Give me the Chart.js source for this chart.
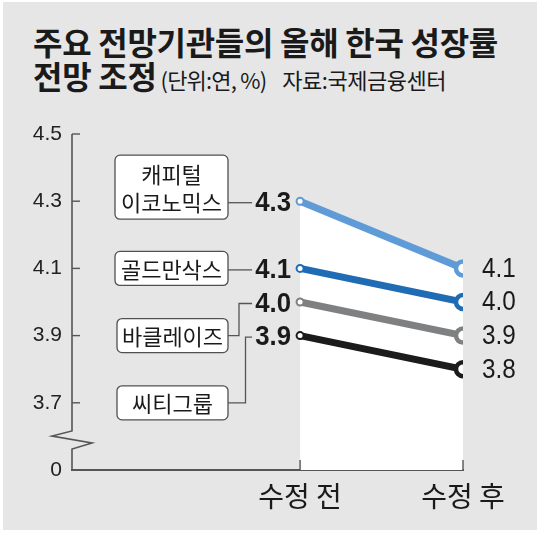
<!DOCTYPE html>
<html>
<head>
<meta charset="utf-8">
<script src="https://cdn.jsdelivr.net/npm/chart.js@4.4.1/dist/chart.umd.min.js"></script>
<style>
  html, body { margin:0; padding:0; background:#ffffff; }
  #wrap { position:relative; width:540px; height:533px; overflow:hidden; }
  #panel { position:absolute; left:3px; top:2px; width:534px; height:528px; background:#e6e6e7; }
  #c { position:absolute; left:0; top:0; }
  .t { position:absolute; font-family:"Noto Sans CJK KR","Noto Sans",sans-serif; color:#1a1a1a; white-space:nowrap; }
  #t1 { left:33px; top:21px; font-size:32px; font-weight:700; letter-spacing:-0.3px; line-height:40px; }
  #t2 { left:33px; top:55px; font-size:32px; font-weight:700; letter-spacing:-0.3px; line-height:40px; }
  #t2 span.u { font-size:22px; font-weight:400; letter-spacing:-0.8px; margin-left:4px; }
  #t2 span.s { font-size:22px; font-weight:400; letter-spacing:-0.5px; margin-left:16px; }
</style>
</head>
<body>
<div id="wrap">
  <div id="panel"></div>
  <div class="t" id="t1">주요 전망기관들의 올해 한국 성장률</div>
  <div class="t" id="t2">전망 조정<span class="u">(단위:연, %)</span><span class="s">자료:국제금융센터</span></div>
  <canvas id="c" width="540" height="533"></canvas>
</div>
<script>
// ---- data ----
const categories = ['수정 전', '수정 후'];
const institutions = [['캐피털', '이코노믹스'], ['골드만삭스'], ['바클레이즈'], ['씨티그룹']];
const beforeValues = [4.3, 4.1, 4.0, 3.9];
const afterValues = [4.1, 4.0, 3.9, 3.8];
const yTickValues = [3.5, 3.7, 3.9, 4.1, 4.3, 4.5];
const yTickLabels = ['0', '3.7', '3.9', '4.1', '4.3', '4.5'];
// y level (on the value axis) where each name box's connector leaves the box
const boxLevels = [4.3, 4.1, 3.9, 3.7];

// ---- styles ----
const colors = ['#5f9bd7', '#1f6bb4', '#7f8082', '#1b1b1b'];
const boxStyle = [
  { x: 115, w: 113, top: -46, h: 64 },
  { x: 115, w: 113, top: -17, h: 34 },
  { x: 117, w: 111, top: -17, h: 34 },
  { x: 117, w: 111, top: -17, h: 34 }
];
const elbowX = [null, null, 239, 245.5];

const datasets = beforeValues.map((v, i) => ({
  label: institutions[i].join(' '),
  data: [{ x: 0, y: beforeValues[i] }, { x: 1, y: afterValues[i] }],
  borderColor: colors[i],
  borderWidth: 7,
  pointBackgroundColor: '#ffffff',
  pointBorderColor: colors[i],
  pointRadius: [3.5, 7],
  pointBorderWidth: [2, 4.5],
  pointHoverRadius: [3.5, 7],
  fill: i === 0 ? 'start' : false,
  backgroundColor: '#ffffff',
  borderCapStyle: 'round'
}));

const decor = {
  id: 'decor',
  afterDraw(chart) {
    const ctx = chart.ctx;
    const xs = chart.scales.x, ys = chart.scales.y;
    const ca = chart.chartArea;
    const axisColor = '#555555';
    ctx.save();
    // broken y axis
    ctx.strokeStyle = axisColor;
    ctx.lineWidth = 1.6;
    ctx.lineJoin = 'miter';
    const ax = ca.left;
    ctx.beginPath();
    ctx.moveTo(ax, ca.top);
    ctx.lineTo(ax, 431);
    ctx.lineTo(ax - 20, 436);
    ctx.lineTo(ax + 20, 443);
    ctx.lineTo(ax, 449);
    ctx.lineTo(ax, ca.bottom + 1);
    ctx.stroke();
    // inward y ticks
    ctx.lineWidth = 1.4;
    yTickValues.forEach((v, k) => {
      if (k === 0) return;
      const y = ys.getPixelForValue(v);
      ctx.beginPath();
      ctx.moveTo(ax, y);
      ctx.lineTo(ax + 8, y);
      ctx.stroke();
    });
    // inward x ticks
    [0, 1].forEach(v => {
      const x = xs.getPixelForValue(v);
      ctx.beginPath();
      ctx.moveTo(x, ca.bottom);
      ctx.lineTo(x, ca.bottom - 10);
      ctx.stroke();
    });

    // name boxes + connectors
    const font = '"Noto Sans CJK KR", sans-serif';
    institutions.forEach((lines, i) => {
      const b = boxStyle[i];
      const by = ys.getPixelForValue(boxLevels[i]);
      const top = by + b.top;
      ctx.fillStyle = '#ffffff';
      ctx.strokeStyle = '#505050';
      ctx.lineWidth = 1.3;
      ctx.beginPath();
      ctx.roundRect(b.x, top, b.w, b.h, 5);
      ctx.fill();
      ctx.stroke();
      ctx.fillStyle = '#1a1a1a';
      ctx.font = '400 22px ' + font;
      ctx.textAlign = 'center';
      ctx.textBaseline = 'middle';
      const cx = b.x + b.w / 2;
      if (lines.length === 2) {
        ctx.fillText(lines[0], cx, top + 19);
        ctx.fillText(lines[1], cx, top + 47);
      } else {
        ctx.fillText(lines[0], cx, top + b.h / 2 + 1);
      }
      // connector
      const vy = ys.getPixelForValue(beforeValues[i]) + 1.5;
      const labelLeft = xs.getPixelForValue(0) - 48;
      ctx.strokeStyle = '#555555';
      ctx.lineWidth = 1.3;
      ctx.beginPath();
      if (elbowX[i] === null) {
        ctx.moveTo(b.x + b.w, vy);
        ctx.lineTo(labelLeft, vy);
      } else {
        ctx.moveTo(b.x + b.w, by);
        ctx.lineTo(elbowX[i], by);
        ctx.lineTo(elbowX[i], vy);
        ctx.lineTo(labelLeft, vy);
      }
      ctx.stroke();
    });

    // value labels
    const numFont = '"Liberation Sans", Arial, sans-serif';
    beforeValues.forEach((v, i) => {
      const x = xs.getPixelForValue(0) - 9;
      const y = ys.getPixelForValue(v) + 2;
      ctx.save();
      ctx.translate(x, y);
      ctx.scale(0.92, 1);
      ctx.fillStyle = '#1a1a1a';
      ctx.font = '700 28px ' + numFont;
      ctx.textAlign = 'right';
      ctx.textBaseline = 'middle';
      ctx.fillText(v.toFixed(1), 0, 0);
      ctx.restore();
    });
    afterValues.forEach((v, i) => {
      const x = xs.getPixelForValue(1) + 19;
      const y = ys.getPixelForValue(v) + 1;
      ctx.save();
      ctx.translate(x, y);
      ctx.scale(0.9, 1);
      ctx.fillStyle = '#1a1a1a';
      ctx.font = '400 27px ' + numFont;
      ctx.textAlign = 'left';
      ctx.textBaseline = 'middle';
      ctx.fillText(v.toFixed(1), 0, 0);
      ctx.restore();
    });
    ctx.restore();
  }
};

new Chart(document.getElementById('c'), {
  type: 'line',
  data: { datasets },
  options: {
    responsive: false,
    animation: false,
    events: [],
    layout: { padding: { top: 134, right: 77, bottom: 23, left: 0 } },
    plugins: {
      legend: { display: false },
      tooltip: { enabled: false },
      filler: { drawTime: 'beforeDatasetsDraw' }
    },
    scales: {
      x: {
        type: 'linear',
        min: -1.4,
        max: 1,
        grid: { display: false },
        border: { display: true, color: '#555555', width: 2 },
        afterBuildTicks: s => { s.ticks = categories.map((c, k) => ({ value: k })); },
        afterFit: s => { s.height = 40; },
        ticks: {
          padding: 2,
          color: '#1a1a1a',
          font: { family: '"Noto Sans CJK KR", sans-serif', size: 28 },
          callback: v => categories[v],
          maxRotation: 0
        }
      },
      y: {
        type: 'linear',
        min: 3.5,
        max: 4.5,
        grid: { display: false, drawTicks: false },
        border: { display: false },
        afterBuildTicks: s => { s.ticks = yTickValues.map(v => ({ value: v })); },
        afterFit: s => { s.width = 72; },
        ticks: {
          padding: 10,
          color: '#222222',
          font: { family: '"Liberation Sans", Arial, sans-serif', size: 21 },
          callback: (v, idx) => yTickLabels[idx]
        }
      }
    }
  },
  plugins: [decor]
});
</script>
</body>
</html>
